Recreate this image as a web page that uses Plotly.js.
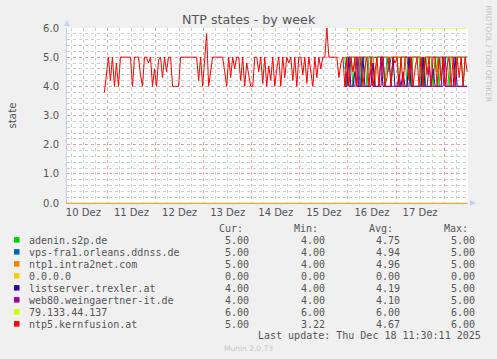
<!DOCTYPE html>
<html>
<head>
<meta charset="utf-8">
<script src="https://cdn.plot.ly/plotly-3.0.1.min.js"></script>
<style>html,body{margin:0;padding:0;background:#f0f0f0;}#chart{width:497px;height:359px;}</style>
</head>
<body>
<div id="chart"></div>
<script>
// ---- data ----
const seriesNames = ["adenin.s2p.de","vps-fra1.orleans.ddnss.de","ntp1.intra2net.com","0.0.0.0","listserver.trexler.at","web80.weingaertner-it.de","79.133.44.137","ntp5.kernfusion.at"];
const seriesColors = ["#00CC00","#0066B3","#FF8000","#FFCC00","#330099","#990099","#CCFF00","#FF0000"];
const statCur = ["5.00","5.00","5.00","0.00","4.00","4.00","6.00","5.00"];
const statMin = ["4.00","4.00","4.00","0.00","4.00","4.00","6.00","3.22"];
const statAvg = ["4.75","4.94","4.96","0.00","4.19","4.10","6.00","4.67"];
const statMax = ["5.00","5.00","5.00","0.00","5.00","5.00","6.00","6.00"];

// hourly samples; ntp5 starts at this time, others start 120 h later
const ntp5Start = "2025-12-10T22:30:00";
const lateStartHour = 120;

const ntp5Values = [
  3.8,4.4,5,4.2,5,4,4.8,4,5,5,
  5,5,5,5,4,5,5,5,4.4,4,
  5,5,4.8,5,4,4.6,4,4.9,5,4.3,
  5,4.5,5,5,4,4,4,4,5,5,
  5,5,5,5,5,5,5,4.2,5,4,
  4.9,5.8,4,4.6,5,5,5,5,5,5,
  4.5,4,5,4.3,5,4.6,5,5,4.2,5,
  4,4.8,4.4,4,4,5,5,4.5,5,4.1,
  5,4,4.7,4.2,5,4,4.6,5,4,5,
  4.3,5,4.8,5,4.2,5,4,5,5,4.4,
  5,4.1,5,4.5,4,5,4.3,5,4.6,5,
  5,6,5,5,5,5,5,4.3,4.8,5,
  4,5,4,5,4.5,5,4,5,5,4,
  4.7,5,4,5,4,4.5,5,4,5,5,
  4,4.3,5,4,5,4.8,5,4,5,4,
  5,5,4.2,5,4,4.6,5,4,5,4,
  5,4.4,5,4,5,5,4,5,4.2,5,
  4,4.7,5,4,5,4,5,4.3,5,4,
  5,4.5
];
const adeninValues = [
  5,4,5,5,4,5,5,5,4,5,
  5,4,5,5,5,4,5,5,5,5,
  4,5,5,4,5,5,5,4,5,5,
  5,4,5,4,5,5,5,5,4,5,
  4,5,5,5,4,5,5,4,5,5,
  5,5,4,5,5,4,5,5,5,4,
  5,5
];
const vpsValues = [
  4.6,5,5,5,5,5,5,4,5,5,
  5,5,5,5,5,5,5,5,5,5,
  5,5,4.5,5,5,5,5,5,5,5,
  5,5,5,5,5,5,5,5,5,4,
  5,5,5,5,5,5,5,5,5,5,
  5,5,5,5,5,5,5,5,5,5,
  5,5
];
const ntp1Values = [
  5,5,5,5,5,5,5,5,5,5,
  5,5,5,5,5,4,5,5,5,5,
  5,5,5,5,5,5,5,5,5,5,
  5,5,5,5,5,5,5,5,5,5,
  5,5,5,5,5,5,4.5,5,5,5,
  5,5,5,5,5,5,5,5,5,5,
  5,5
];
const listserverValues = [
  4,4,5,4,4,4.5,4,4,4,5,
  4,4,4,4,4.8,4,4,4,5,4,
  4,4,4,4,5,4,4,4,4,4.5,
  4,4,5,4,4,4,4,4,4,5,
  4,4,4,4,4.6,4,4,4,4,5,
  4,4,4,4,4,5,4,4,4,4,
  4,4
];
const web80Values = [
  4,4.5,4,4,4,4,5,4,4,4,
  4,4,4,4.6,4,4,4,4,4,5,
  4,4,4,4,4,4,4,4.4,4,4,
  4,4,4,5,4,4,4,4,4,4,
  4,4,4.7,4,4,4,4,4,4,4,
  5,4,4,4,4,4,4,4,4,4,
  4,4
];
const zeroTimes = ["2025-12-10T03:50:00","2025-12-18T11:30:00"];
const zeroValues = [0,0];
const ip79Times = ["2025-12-15T22:30:00","2025-12-18T11:30:00"];
const ip79Values = [6,6];

const yTickVals = [0,1,2,3,4,5,6];
const xRange = ["2025-12-10T03:50:00","2025-12-18T11:55:00"];

// ---- helpers ----
function hourTimes(startIso, offset, n){
  const t0 = new Date(startIso + "Z").getTime();
  const out = [];
  for(let i=0;i<n;i++){
    const d = new Date(t0 + (offset+i)*3600000);
    out.push(d.toISOString().slice(0,19).replace("T"," "));
  }
  return out;
}
const lateT = n => hourTimes(ntp5Start, lateStartHour, n);

function line(name, color, x, y){
  return {type:"scatter", mode:"lines", name:name, x:x, y:y,
          line:{color:color, width:1}, hoverinfo:"skip", showlegend:false};
}
const traces = [
  line(seriesNames[0], seriesColors[0], lateT(adeninValues.length), adeninValues),
  line(seriesNames[1], seriesColors[1], lateT(vpsValues.length), vpsValues),
  line(seriesNames[2], seriesColors[2], lateT(ntp1Values.length), ntp1Values),
  line(seriesNames[3], seriesColors[3], zeroTimes, zeroValues),
  line(seriesNames[4], seriesColors[4], lateT(listserverValues.length), listserverValues),
  line(seriesNames[5], seriesColors[5], lateT(web80Values.length), web80Values),
  line(seriesNames[6], seriesColors[6], ip79Times, ip79Values),
  line(seriesNames[7], seriesColors[7], hourTimes(ntp5Start, 0, ntp5Values.length), ntp5Values)
];

// ---- layout in pixels ----
const W = 497, H = 359;
const PL = 67, PR = 468, PT = 28, PB = 203;
const px = x => (x - PL) / (PR - PL);
const py = y => (PB - y) / (PB - PT);

const mono = {family:"DejaVu Sans Mono", size:10, color:"#555555"};
const annotations = [];
const shapes = [];
function txt(x, y, text, anchor, font){
  annotations.push({xref:"paper", yref:"paper", x:px(x), y:py(y), text:text,
    showarrow:false, xanchor:anchor, yanchor:"middle", font:font || mono});
}
txt(245, 228, "Cur:", "right");
txt(320, 228, "Min:", "right");
txt(395, 228, "Avg:", "right");
txt(470, 228, "Max:", "right");
for(let i=0;i<seriesNames.length;i++){
  const y = 240 + 12*i;
  shapes.push({type:"rect", xref:"paper", yref:"paper", x0:px(14), x1:px(19.5),
    y0:py(y+2.6), y1:py(y-2.9), fillcolor:seriesColors[i], line:{width:0}});
  txt(26.5, y, seriesNames[i], "left");
  txt(250.5, y, statCur[i], "right");
  txt(327, y, statMin[i], "right");
  txt(402, y, statAvg[i], "right");
  txt(477, y, statMax[i], "right");
}
txt(482.5, 335.5, "Last update: Thu Dec 18 11:30:11 2025", "right");
txt(248, 348.5, "Munin 2.0.73", "center", {family:"DejaVu Sans", size:7.5, color:"#c8c8c8"});
// side credit
annotations.push({xref:"paper", yref:"paper", x:px(488), y:py(53.5), text:"RRDTOOL / TOBI OETIKER",
  textangle:90, showarrow:false, xanchor:"center", yanchor:"middle",
  font:{family:"DejaVu Sans", size:7.5, color:"#c4c4c4"}});
// title
annotations.push({xref:"paper", yref:"paper", x:px(248.5), y:py(19.5), text:"NTP states - by week",
  showarrow:false, xanchor:"center", yanchor:"middle",
  font:{family:"DejaVu Sans", size:12.7, color:"#555555"}});
// axis arrows
annotations.push({xref:"paper", yref:"paper", x:px(67), y:py(20), ax:0, ay:8, text:"",
  showarrow:true, arrowhead:2, arrowsize:1.2, arrowwidth:1, arrowcolor:"#c8ceF5"});
annotations.push({xref:"paper", yref:"paper", x:px(476), y:py(203), ax:-8, ay:0, text:"",
  showarrow:true, arrowhead:2, arrowsize:1.2, arrowwidth:1, arrowcolor:"#c8ceF5"});

const layout = {
  width:W, height:H,
  margin:{l:PL, r:W-PR, t:PT, b:H-PB, pad:0},
  paper_bgcolor:"#f0f0f0", plot_bgcolor:"#ffffff",
  showlegend:false,
  font:{family:"DejaVu Sans", size:10, color:"#555555"},
  xaxis:{type:"date", range:xRange, dtick:86400000, tick0:"2025-12-10",
    tickformat:"%d Dez", ticklabelmode:"period", ticks:"", showline:true,
    linecolor:"#cfae7c", linewidth:1,
    zeroline:false, showgrid:true, gridcolor:"#eaa3a3", griddash:"dot", gridwidth:1,
    tickfont:{family:"DejaVu Sans", size:10, color:"#555555"},
    minor:{dtick:6*3600000, showgrid:true, gridcolor:"#cfcfcf", griddash:"dot", gridwidth:1}},
  yaxis:{range:[0,6], tickvals:yTickVals, tickformat:".1f", ticks:"outside", ticklen:5,
    tickcolor:"rgba(0,0,0,0)", showline:true, linecolor:"#c8cef5", linewidth:1,
    zeroline:false, showgrid:true, gridcolor:"#eaa3a3", griddash:"dot", gridwidth:1,
    tickfont:{family:"DejaVu Sans", size:10, color:"#555555"},
    title:{text:"state", font:{family:"DejaVu Sans", size:10.3, color:"#555555"}, standoff:24},
    minor:{dtick:0.2, showgrid:true, gridcolor:"#cfcfcf", griddash:"dot", gridwidth:1}},
  annotations:annotations, shapes:shapes
};
Plotly.newPlot("chart", traces, layout, {staticPlot:true, displayModeBar:false});
</script>
</body>
</html>
